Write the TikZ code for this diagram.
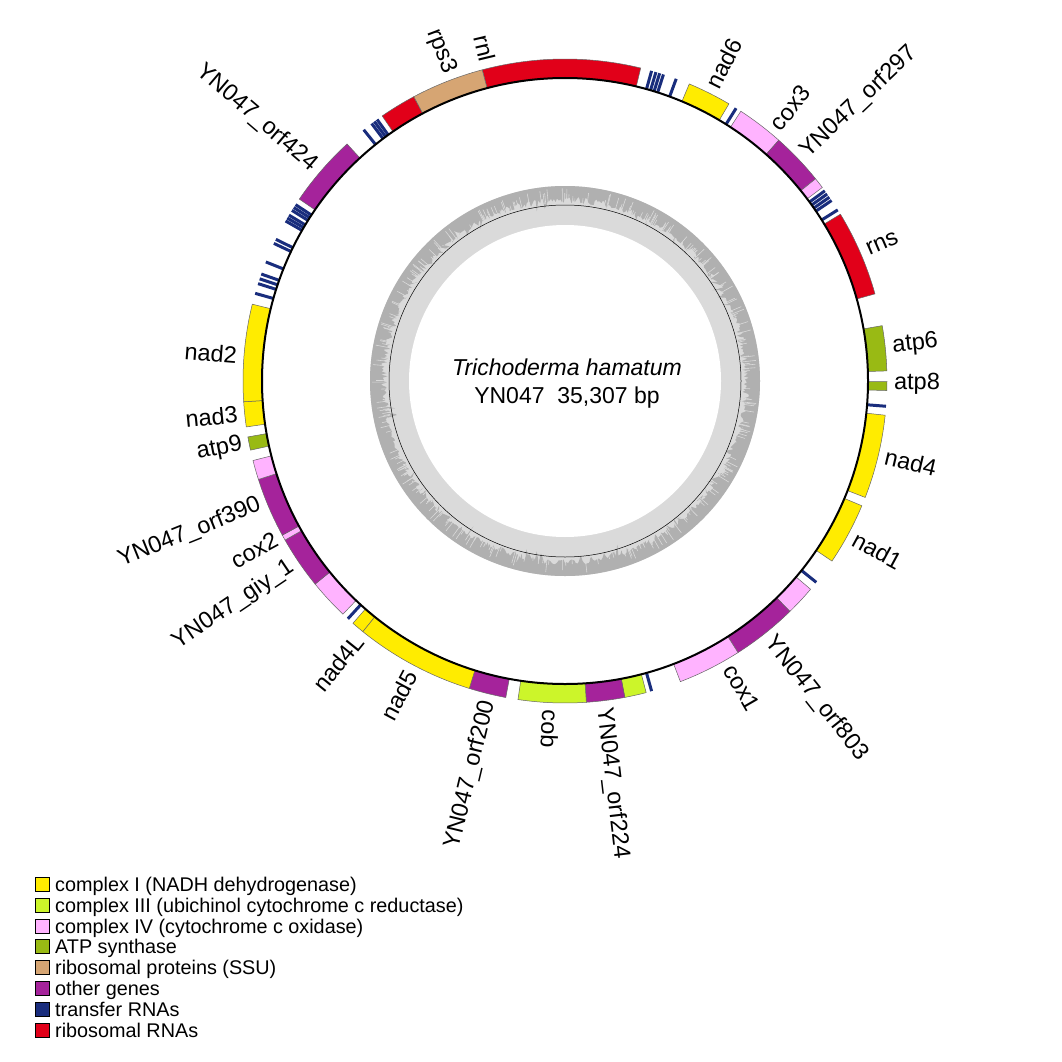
\documentclass[tikz,border=0pt]{standalone}
\usepackage{fontspec}
\setmainfont{Liberation Sans}
\definecolor{cI}{RGB}{255,236,0}
\definecolor{cIII}{RGB}{204,245,42}
\definecolor{cIV}{RGB}{255,179,255}
\definecolor{atpc}{RGB}{153,186,20}
\definecolor{rpsc}{RGB}{214,165,115}
\definecolor{othc}{RGB}{165,35,155}
\definecolor{trnac}{RGB}{25,45,125}
\definecolor{rrnac}{RGB}{225,0,25}
\definecolor{gclight}{RGB}{218,218,218}
\definecolor{gcdark}{RGB}{176,176,176}
\newcommand\gbox[3]{\filldraw[genebox, fill=#3] (#1:303) arc[start angle=#1,end angle=#2,radius=303] -- (#2:322) arc[start angle=#2,end angle=#1,radius=322] -- cycle;}
\newcommand\trn[1]{\draw[trnaline] (#1:303.5) -- (#1:322);}
\newcommand\lblR[3]{\node[lbl, anchor=west, rotate=#1] (#3) at (#1:329) {#2};}
\newcommand\lblL[3]{\node[lbl, anchor=east, rotate=#1-180] (#3) at (#1:329) {#2};}
\begin{document}
\begin{tikzpicture}[x=1pt,y=1pt,
  genebox/.style={draw=black!60, line width=0.5pt},
  trnaline/.style={draw=trnac, line width=3pt},
  lbl/.style={font=\fontsize{23.5}{28}\selectfont, inner sep=0pt},
  legsq/.style={draw=black, line width=1pt, minimum size=14pt, inner sep=0pt},
  legtxt/.style={font=\fontsize{19.8}{24}\selectfont, inner sep=0pt, anchor=base west}]
\useasboundingbox (0,0) rectangle (1062,-1062);
\fill[white] (0,0) rectangle (1062,-1062);
\begin{scope}[shift={(565,-381)}]
% GC content ring
\pgfmathsetseed{4711}
\fill[gclight] (0,0) circle[radius=195];
\fill[gcdark, even odd rule] (0,0) circle[radius=195] (0:181) \foreach \a in {1,...,719}{ -- (\a/2:{181+3.5*rand-7*(rnd>0.93)}) } -- cycle;
\foreach \i in {1,...,300}{
  \pgfmathsetmacro\ang{360*rnd}
  \pgfmathsetmacro\rr{182+11*rnd}
  \draw[gclight, line width=0.6pt] (\ang:178) -- (\ang:\rr);
}
\fill[white] (0,0) circle[radius=156];
\draw[black, line width=0.5pt] (0,0) circle[radius=176];
% genes
\gbox{104.9}{76.4}{rrnac}
\trn{74.4}\trn{73.6}\trn{72.9}\trn{72.2}\trn{69.8}
\gbox{67.3}{59.4}{cI}
\trn{57.9}
\gbox{56.9}{48.4}{cIV}
\gbox{48.4}{38.9}{othc}
\gbox{38.9}{36.95}{cIV}
\trn{36.2}\trn{35.5}\trn{34.8}\trn{34.1}
\trn{32.1}
\gbox{31.2}{15.7}{rrnac}
\gbox{9.9}{1.8}{atpc}
\gbox{-0.1}{-1.7}{atpc}
\trn{-4.5}
\gbox{-6.1}{-21.2}{cI}
\gbox{-22.8}{-34.0}{cI}
\trn{-38.7}
\gbox{-40.3}{-45.7}{cIV}
\gbox{-45.7}{-57.5}{othc}
\gbox{-57.5}{-69.0}{cIV}
\trn{-74.4}
\gbox{-75.4}{-79.3}{cIII}
\gbox{-79.3}{-86.2}{othc}
\gbox{-86.2}{-98.4}{cIII}
\gbox{-100.6}{-107.3}{othc}
\gbox{-107.3}{-128.9}{cI}
\gbox{-128.9}{-131.2}{cI}
\trn{-132.4}
\gbox{-133.6}{-140.9}{cIV}
\gbox{-140.9}{-150.4}{othc}
\gbox{-150.4}{-151.4}{cIV}
\gbox{-151.4}{-162.2}{othc}
\gbox{-162.2}{-165.7}{cIV}
\gbox{-167.6}{-170.0}{atpc}
\gbox{-171.8}{-176.3}{cI}
\gbox{-176.3}{-193.8}{cI}
\trn{164.2}\trn{162.4}\trn{161.5}\trn{160.6}\trn{158.3}
\trn{154.7}\trn{153.9}
\trn{150.2}\trn{149.6}\trn{149.0}\trn{148.0}\trn{147.4}\trn{146.8}
\gbox{145.6}{132.6}{othc}
\trn{128.7}\trn{126.9}\trn{126.3}\trn{125.7}
\gbox{124.6}{118.0}{rrnac}
\gbox{118.0}{104.9}{rpsc}
% genome circle
\draw[black, line width=2pt] (0,0) circle[radius=303];
% labels
\lblL{103.5}{rnl}{Lrnl}
\lblL{110.6}{rps3}{Lrps}
\lblL{139.5}{YN047\_orf424}{Lo424}
\lblL{175.5}{nad2}{Lnad2}
\lblL{185.8}{nad3}{Lnad3}
\lblL{191.1}{atp9}{Latp9}
\lblL{202.0}{YN047\_orf390}{Lo390}
\lblL{208.6}{cox2}{Lcox2}
\lblL{214.0}{YN047\_giy\_1}{Lgiy}
\lblL{231.2}{nad4L}{Lnad4L}
\lblL{242.2}{nad5}{Lnad5}
\lblL{256.5}{YN047\_orf200}{Lo200}
\lblR{-92.5}{cob}{Lcob}
\lblR{-83.3}{YN047\_orf224}{Lo224}
\lblR{-60.0}{cox1}{Lcox1}
\lblR{-51.6}{YN047\_orf803}{Lo803}
\lblR{-28.5}{nad1}{Lnad1}
\lblR{-13.3}{nad4}{Lnad4}
\lblR{-0.5}{atp8}{Latp8}
\lblR{6.0}{atp6}{Latp6}
\lblR{23.4}{rns}{Lrns}
\lblR{43.5}{YN047\_orf297}{Lo297}
\lblR{50.5}{cox3}{Lcox3}
\lblR{63.4}{nad6}{Lnad6}
% centre text
\node[font=\fontsize{23}{27}\selectfont\itshape, anchor=base, inner sep=0pt] (title) at (2,6) {Trichoderma hamatum};
\node[font=\fontsize{23}{27}\selectfont, anchor=base, inner sep=0pt] (size) at (2,-22) {YN047\ \ 35,307 bp};
\end{scope}
% legend
\node[legsq, fill=cI] (s1) at (42.5,-884.5) {};
\node[legsq, fill=cIII] (s2) at (42.5,-905.3) {};
\node[legsq, fill=cIV] (s3) at (42.5,-926.1) {};
\node[legsq, fill=atpc] (s4) at (42.5,-946.9) {};
\node[legsq, fill=rpsc] (s5) at (42.5,-967.7) {};
\node[legsq, fill=othc] (s6) at (42.5,-988.5) {};
\node[legsq, fill=trnac] (s7) at (42.5,-1009.3) {};
\node[legsq, fill=rrnac] (s8) at (42.5,-1030.1) {};
\node[legtxt] (t1) at (55,-891.5) {complex I (NADH dehydrogenase)};
\node[legtxt] (t2) at (55,-912.3) {complex III (ubichinol cytochrome c reductase)};
\node[legtxt] (t3) at (55,-933.1) {complex IV (cytochrome c oxidase)};
\node[legtxt] (t4) at (55,-953.9) {ATP synthase};
\node[legtxt] (t5) at (55,-974.7) {ribosomal proteins (SSU)};
\node[legtxt] (t6) at (55,-995.5) {other genes};
\node[legtxt] (t7) at (55,-1016.3) {transfer RNAs};
\node[legtxt] (t8) at (55,-1037.1) {ribosomal RNAs};
\end{tikzpicture}
\end{document}
